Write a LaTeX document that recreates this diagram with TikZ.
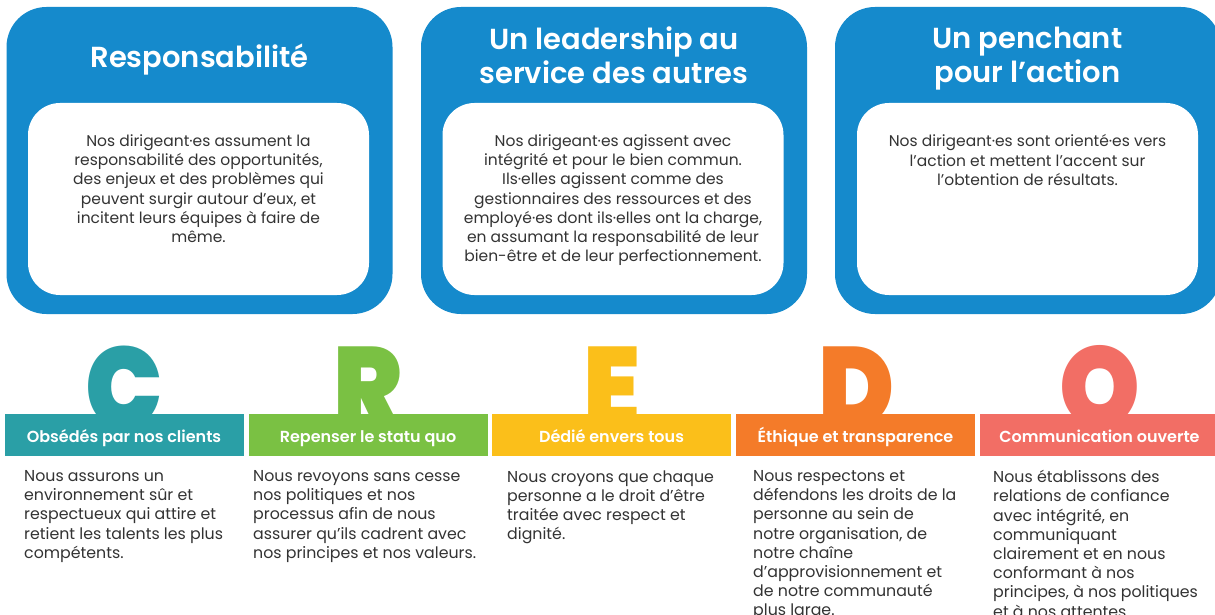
\documentclass[tikz,border=0pt]{standalone}
\usepackage{fontspec}
\setmainfont{Poppins}
\newfontfamily\psemi{Poppins SemiBold}
\newfontfamily\pblack{Poppins Black}
\definecolor{cblue}{HTML}{158ACC}
\definecolor{cteal}{HTML}{2A9FA6}
\definecolor{cgreen}{HTML}{7AC143}
\definecolor{cyellow}{HTML}{FBBF1A}
\definecolor{corange}{HTML}{F47B29}
\definecolor{csalmon}{HTML}{F26E65}
\definecolor{ctext}{HTML}{333333}
\newcommand{\credoletter}[1]{\scalebox{0.9}[1]{#1}}
\tikzset{
  outerbox/.style={fill=cblue, rounded corners=40pt, minimum width=386pt, minimum height=307pt, inner sep=0pt},
  innerbox/.style={fill=white, rounded corners=32pt, minimum width=341pt, minimum height=192pt, inner sep=0pt},
  title/.style={text=white, font=\psemi\fontsize{29}{34}\selectfont, align=center, inner sep=0pt, anchor=north, execute at begin node=\strut},
  topbody/.style={text=ctext, font=\fontsize{15.5}{19.2}\selectfont, align=center, inner sep=0pt, anchor=north, execute at begin node=\strut},
  bigletter/.style={font=\pblack\fontsize{114}{114}\selectfont, inner sep=0pt, anchor=base},
  bar/.style={minimum width=239pt, minimum height=42pt, inner sep=0pt},
  barlabel/.style={text=white, font=\psemi\fontsize{16}{19}\selectfont, inner sep=0pt, anchor=base},
  botbody/.style={text=ctext, font=\fontsize{15.8}{19.2}\selectfont, align=left, inner sep=0pt, anchor=north west, execute at begin node=\strut}
}
\begin{document}
\begin{tikzpicture}[x=1pt,y=-1pt]
\clip (0,0) rectangle (1215,615);
\fill[white] (0,0) rectangle (1215,615);
% top boxes
\node[outerbox] (b1) at (199.5,160.5) {};
\node[outerbox] (b2) at (614,160.5) {};
\node[outerbox] (b3) at (1028,160.5) {};
\node[innerbox] (w1) at (198.5,199) {};
\node[innerbox] (w2) at (613,199) {};
\node[innerbox] (w3) at (1027.5,199) {};
\node[title] (t1) at (199.5,43.7) {Responsabilité};
\node[title] (t2) at (614,26.5) {Un leadership au\\service des autres};
\node[title] (t3) at (1027.5,26.5) {Un penchant\\pour l’action};
\node[topbody] (d1) at (198.5,134.6) {Nos dirigeant·es assument la\\responsabilité des opportunités,\\des enjeux et des problèmes qui\\peuvent surgir autour d’eux, et\\incitent leurs équipes à faire de\\même.};
\node[topbody] (d2) at (613,134.6) {Nos dirigeant·es agissent avec\\intégrité et pour le bien commun.\\Ils·elles agissent comme des\\gestionnaires des ressources et des\\employé·es dont ils·elles ont la charge,\\en assumant la responsabilité de leur\\bien-être et de leur perfectionnement.};
\node[topbody] (d3) at (1027.5,134.6) {Nos dirigeant·es sont orienté·es vers\\l’action et mettent l’accent sur\\l’obtention de résultats.};
% big letters, cut off where the bars begin
\begin{scope}
\clip (0,300) rectangle (1215,414);
\node[bigletter, text=cteal] (lc) at (124,427) {\credoletter{C}};
\node[bigletter, text=cgreen] (lr) at (368,427) {\credoletter{R}};
\node[bigletter, text=cyellow] (le) at (612.5,427) {\credoletter{E}};
\node[bigletter, text=corange] (ld) at (856.5,427) {\credoletter{D}};
\node[bigletter, text=csalmon] (lo) at (1099.5,427) {\credoletter{O}};
\end{scope}
% bars
\node[bar, fill=cteal] (r1) at (124,435) {};
\node[bar, fill=cgreen] (r2) at (368,435) {};
\node[bar, fill=cyellow] (r3) at (611.5,435) {};
\node[bar, fill=corange] (r4) at (855.5,435) {};
\node[bar, fill=csalmon] (r5) at (1099.5,435) {};
\node[barlabel] (l1) at (124,442) {Obsédés par nos clients};
\node[barlabel] (l2) at (368,442) {Repenser le statu quo};
\node[barlabel] (l3) at (611.5,442) {Dédié envers tous};
\node[barlabel] (l4) at (855.5,442) {Éthique et transparence};
\node[barlabel] (l5) at (1099.5,442) {Communication ouverte};
% bottom texts
\node[botbody] (p1) at (24,470.2) {Nous assurons un\\environnement sûr et\\respectueux qui attire et\\retient les talents les plus\\compétents.};
\node[botbody] (p2) at (253,470.2) {Nous revoyons sans cesse\\nos politiques et nos\\processus afin de nous\\assurer qu’ils cadrent avec\\nos principes et nos valeurs.};
\node[botbody] (p3) at (507,470.2) {Nous croyons que chaque\\personne a le droit d’être\\traitée avec respect et\\dignité.};
\node[botbody] (p4) at (753,470.2) {Nous respectons et\\défendons les droits de la\\personne au sein de\\notre organisation, de\\notre chaîne\\d’approvisionnement et\\de notre communauté\\plus large.};
\node[botbody] (p5) at (993,470.2) {Nous établissons des\\relations de confiance\\avec intégrité, en\\communiquant\\clairement et en nous\\conformant à nos\\principes, à nos politiques\\et à nos attentes.};
\end{tikzpicture}
\end{document}
